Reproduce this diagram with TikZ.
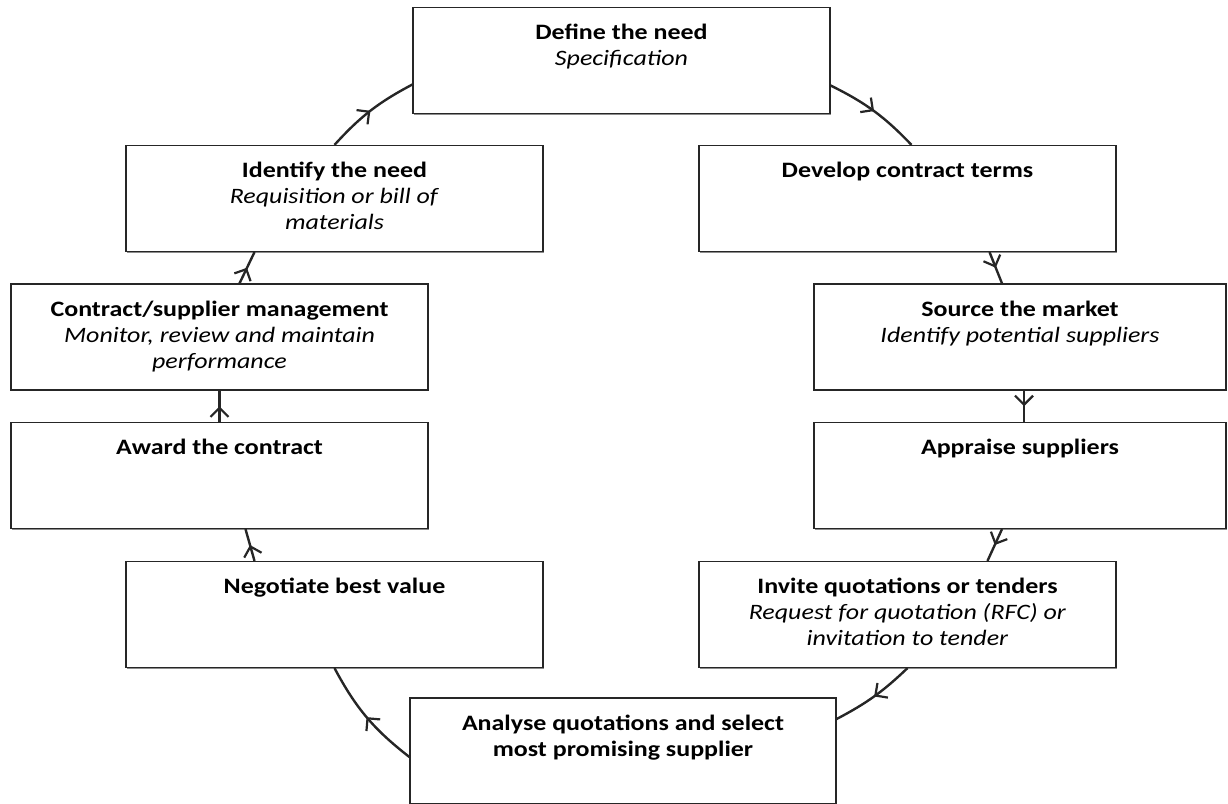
\documentclass[tikz,border=0pt]{standalone}
\usepackage{fontspec}
\setmainfont{Carlito}[FakeStretch=1.18]
\usepackage{tikz}
\usetikzlibrary{arrows.meta,shadows,decorations.markings}

% top aligned text block inside a stage box
\newcommand{\boxtxt}[2]{\parbox[c][53pt][t]{#1}{\centering\vspace*{8.5pt}#2}}

\begin{document}
\begin{tikzpicture}[
    x=0.5pt, y=-0.5pt,
    stage/.style={draw=black!85, line width=0.6pt, fill=white, inner sep=0pt,
        font=\fontsize{11}{13}\selectfont,
        drop shadow={shadow xshift=0.7pt, shadow yshift=-0.7pt, fill=black!45, opacity=1}},
    flow/.style={line width=1.2pt, black!85,
        decoration={markings, mark=at position 0.5 with {\arrow{Straight Barb[length=4.5pt, width=9pt, line width=1.1pt]}}},
        postaction={decorate}},
]
\useasboundingbox (0,0) rectangle (1228,804);

% Top of the cycle
\node[stage] (define) at (621.5,60.5) {\boxtxt{208.5pt}{\textbf{Define the need}\\\textit{Specification}}};

% Left column (going up)
\node[stage] (ident) at (334.5,198.5) {\boxtxt{208.5pt}{\textbf{Identify the need}\\\textit{Requisition or bill of}\\\textit{materials}}};
\node[stage] (contract) at (219.5,337) {\boxtxt{208.5pt}{\textbf{Contract/supplier management}\\\textit{Monitor, review and maintain}\\\textit{performance}}};
\node[stage] (award) at (219.5,475.5) {\boxtxt{208.5pt}{\textbf{Award the contract}}};
\node[stage] (negotiate) at (334.5,614.5) {\boxtxt{208.5pt}{\textbf{Negotiate best value}}};

% Right column (going down)
\node[stage] (develop) at (907.5,198.5) {\boxtxt{208.5pt}{\textbf{Develop contract terms}}};
\node[stage] (source) at (1020,337) {\boxtxt{206pt}{\textbf{Source the market}\\\textit{Identify potential suppliers}}};
\node[stage] (appraise) at (1020,475.5) {\boxtxt{206pt}{\textbf{Appraise suppliers}}};
\node[stage] (invite) at (907.5,614.5) {\boxtxt{208.5pt}{\textbf{Invite quotations or tenders}\\\textit{Request for quotation (RFC) or}\\\textit{invitation to tender}}};

% Bottom of the cycle
\node[stage] (analyse) at (623,751) {\boxtxt{213pt}{\textbf{Analyse quotations and select}\\\textbf{most promising supplier}}};

% Right side connectors
\draw[flow] ([yshift=-12.5pt]define.east) to[bend left=10] ([xshift=2pt]develop.north);
\draw[flow] ([xshift=41pt]develop.south) -- ([xshift=-9pt]source.north);
\draw[flow] ([xshift=2pt]source.south) -- ([xshift=2pt]appraise.north);
\draw[flow] ([xshift=-9pt]appraise.south) -- ([xshift=40pt]invite.north);
\draw[flow] (invite.south) to[bend left=8] ([yshift=16pt]analyse.east);

% Left side connectors
\draw[flow] ([yshift=-3pt]analyse.west) to[bend left=12] (negotiate.south);
\draw[flow] ([xshift=-40pt]negotiate.north) -- ([xshift=13pt]award.south);
\draw[flow] (award.north) -- (contract.south);
\draw[flow] ([xshift=10pt]contract.north) -- ([xshift=-40pt]ident.south);
\draw[flow] (ident.north) to[bend left=10] ([yshift=-12pt]define.west);

\end{tikzpicture}
\end{document}
